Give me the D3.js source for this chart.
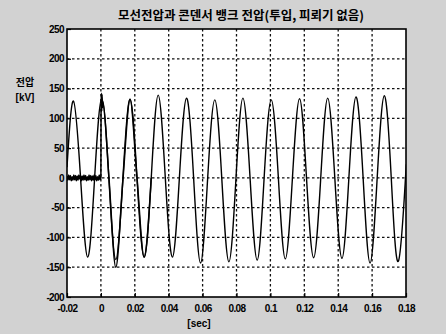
<!DOCTYPE html>
<html><head><meta charset="utf-8">
<script src="https://cdn.jsdelivr.net/npm/d3@7"></script>
<style>html,body{margin:0;padding:0;background:#d2d2d2;}svg{display:block;}</style>
</head><body>
<svg id="c" width="446" height="334"></svg>
<script>
// ---- data ----
const titleText = "모선전압과 콘덴서 뱅크 전압(투입, 피뢰기 없음)";
const yLabel1 = "전압", yLabel2 = "[kV]", xLabel = "[sec]";
const xTicks = [-0.02,0,0.02,0.04,0.06,0.08,0.1,0.12,0.14,0.16,0.18];
const xTickLabels = ["-0.02","0","0.02","0.04","0.06","0.08","0.1","0.12","0.14","0.16","0.18"];
const yTicks = [250,200,150,100,50,0,-50,-100,-150,-200];
const yTickLabels = ["250","200","150","100","50","0","-50","-100","-150","-200"];

// bus voltage [kV] at sample times [s]
const busT = [-0.0200,-0.0162,-0.0120,-0.0078,-0.0037,0.0005,0.0047,0.0088,0.0130,0.0172,
  0.0213,0.0255,0.0297,0.0338,0.0380,0.0422,0.0463,0.0505,0.0547,0.0588,
  0.0630,0.0672,0.0713,0.0755,0.0797,0.0838,0.0880,0.0922,0.0963,0.1005,
  0.1047,0.1088,0.1130,0.1172,0.1213,0.1255,0.1297,0.1338,0.1380,0.1422,
  0.1463,0.1505,0.1547,0.1588,0.1630,0.1672,0.1713,0.1755,0.1797,0.1800];
const busV = [18,129,0,-133,0,133,0,-137,0,132,
  0,-133,0,139,0,-133,0,134,0,-143,
  0,131,0,-141,0,134,0,-138,0,131,
  0,-136,0,133,0,-134,0,134,0,-135,
  0,136,0,-143,0,138,0,-140,0,2];

// capacitor bank voltage [kV]
const capT = [-0.0200,-0.0195,-0.0190,-0.0185,-0.0180,-0.0175,-0.0170,-0.0165,-0.0160,-0.0155,
  -0.0150,-0.0145,-0.0140,-0.0135,-0.0130,-0.0125,-0.0120,-0.0115,-0.0110,-0.0105,
  -0.0100,-0.0095,-0.0090,-0.0085,-0.0080,-0.0075,-0.0070,-0.0065,-0.0060,-0.0055,
  -0.0050,-0.0045,-0.0040,-0.0035,-0.0030,-0.0025,-0.0020,-0.0015,-0.0010,-0.0005,
  0.0000,0.0001,0.0003,0.0005,0.0007,0.0009,0.0012,0.0047,0.0088,0.0130,
  0.0172,0.0213,0.0255,0.0297];
const capV = [3,-4,5,-3,4,-5,2,-4,5,-3,
  4,-5,3,-4,5,-2,4,-5,3,-4,
  5,-3,4,-5,2,-4,5,-3,4,-5,
  3,-4,5,-3,4,-5,2,-4,5,-3,
  0,122,142,112,140,118,128,2,-150,-3,
  132,0,-133,0];

// ---- drawing ----
const svg = d3.select("#c");
const L = 67, R = 406, T = 29, B = 297;
const x = d3.scaleLinear().domain([-0.02,0.18]).range([L,R]);
const y = d3.scaleLinear().domain([-200,250]).range([B,T]);

svg.append("rect").attr("x",L).attr("y",T).attr("width",R-L).attr("height",B-T).attr("fill","#fff");

// grid
const grid = svg.append("g").attr("stroke","#111").attr("stroke-width",1.3).attr("stroke-dasharray","2.5,2.5");
grid.selectAll("line.v").data(xTicks.slice(1,-1)).enter().append("line")
  .attr("x1",d=>x(d)).attr("x2",d=>x(d)).attr("y1",T).attr("y2",B);
grid.selectAll("line.h").data(yTicks.slice(1,-1)).enter().append("line")
  .attr("x1",L).attr("x2",R).attr("y1",d=>y(d)).attr("y2",d=>y(d));

// clip
svg.append("clipPath").attr("id","clip").append("rect").attr("x",L).attr("y",T).attr("width",R-L).attr("height",B-T);

const busData = busT.map((t,i)=>[t,busV[i]]);
const capData = capT.map((t,i)=>[t,capV[i]]);
const g = svg.append("g").attr("clip-path","url(#clip)");
g.append("path").datum(busData)
  .attr("d", d3.line().x(d=>x(d[0])).y(d=>y(d[1])).curve(d3.curveNatural))
  .attr("fill","none").attr("stroke","#000").attr("stroke-width",1.4);
g.append("path").datum(capData)
  .attr("d", d3.line().x(d=>x(d[0])).y(d=>y(d[1])).curve(d3.curveMonotoneX))
  .attr("fill","none").attr("stroke","#000").attr("stroke-width",1.5);

// axes
const font = "'Liberation Sans', Arial, sans-serif";
const xAxis = d3.axisBottom(x).tickValues(xTicks).tickFormat((d,i)=>xTickLabels[i]).tickSizeInner(-4).tickSizeOuter(0).tickPadding(8);
const yAxis = d3.axisLeft(y).tickValues(yTicks).tickFormat((d,i)=>yTickLabels[i]).tickSizeInner(-4).tickSizeOuter(0).tickPadding(6);
const gx = svg.append("g").attr("transform",`translate(0,${B})`).call(xAxis);
const gy = svg.append("g").attr("transform",`translate(${L},0)`).call(yAxis);
[gx,gy].forEach(a=>{
  a.select(".domain").remove();
  a.selectAll("line").attr("stroke","#000").attr("stroke-width",1.2);
  a.selectAll("text").attr("fill","#000").style("font-family",font).style("font-size","10px").style("font-weight","bold").style("letter-spacing","-0.6px");
});
gy.selectAll("text").attr("x",-3);

// frame
svg.append("rect").attr("x",L).attr("y",T).attr("width",R-L).attr("height",B-T)
  .attr("fill","none").attr("stroke","#000").attr("stroke-width",1.6);

// texts
svg.append("text").attr("x",241).attr("y",20).attr("text-anchor","middle")
  .style("font-family","'Noto Sans CJK KR', sans-serif").style("font-size","12.5px").style("font-weight","bold")
  .attr("fill","#000").text(titleText);
svg.append("text").attr("x",25).attr("y",86).attr("text-anchor","middle")
  .style("font-family","'Noto Sans CJK KR', sans-serif").style("font-size","10px").style("font-weight","bold").text(yLabel1);
svg.append("text").attr("x",25).attr("y",101).attr("text-anchor","middle")
  .style("font-family",font).style("font-size","10px").style("font-weight","bold").text(yLabel2);
svg.append("text").attr("x",199).attr("y",327).attr("text-anchor","middle")
  .style("font-family",font).style("font-size","10px").style("font-weight","bold").text(xLabel);
</script>
</body></html>
